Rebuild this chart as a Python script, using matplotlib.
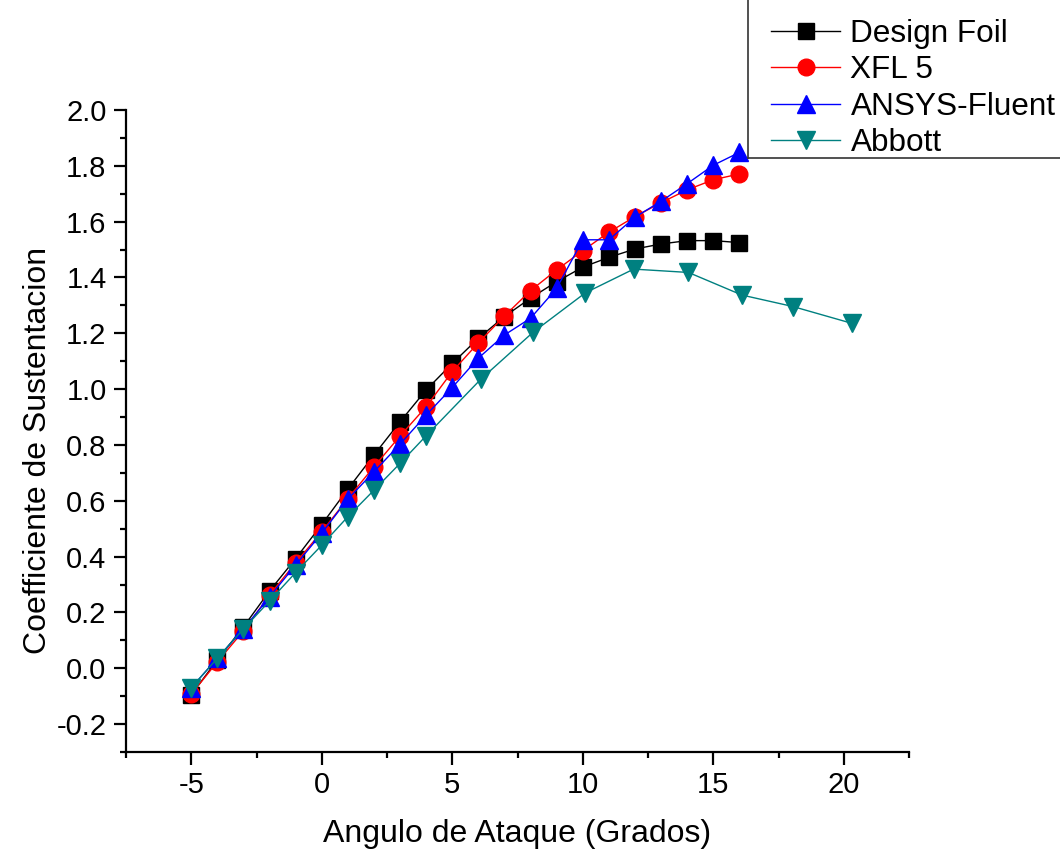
import matplotlib
matplotlib.use("Agg")
import matplotlib.pyplot as plt
from matplotlib.ticker import MultipleLocator, FormatStrFormatter
from matplotlib.lines import Line2D

plt.rcParams['font.family'] = ['Liberation Sans', 'DejaVu Sans']
plt.rcParams['axes.unicode_minus'] = False

alpha = [-5, -4, -3, -2, -1, 0, 1, 2, 3, 4, 5, 6, 7, 8, 9, 10, 11, 12, 13, 14, 15, 16]
design_foil = [-0.095, 0.03, 0.148, 0.277, 0.393, 0.515, 0.642, 0.764, 0.883, 0.997, 1.092,
               1.182, 1.26, 1.326, 1.385, 1.437, 1.472, 1.502, 1.52, 1.532, 1.532, 1.525]
xfl5 = [-0.093, 0.023, 0.134, 0.262, 0.378, 0.489, 0.608, 0.722, 0.832, 0.937, 1.063,
        1.166, 1.262, 1.353, 1.427, 1.496, 1.562, 1.618, 1.668, 1.714, 1.75, 1.771]
ansys = [-0.07, 0.036, 0.14, 0.256, 0.37, 0.484, 0.606, 0.704, 0.803, 0.907, 1.006,
         1.111, 1.194, 1.254, 1.361, 1.535, 1.535, 1.616, 1.673, 1.736, 1.802, 1.848]

alpha_abbott = [-5, -4, -3, -2, -1, 0, 1, 2, 3, 4, 6.1, 8.1, 10.1, 11.95, 14.05, 16.1, 18.05, 20.3]
abbott = [-0.07, 0.036, 0.141, 0.241, 0.343, 0.441, 0.543, 0.638, 0.734, 0.833,
          1.036, 1.204, 1.345, 1.43, 1.418, 1.337, 1.296, 1.236]

W, H = 1060, 852
fig = plt.figure(figsize=(W / 100, H / 100), dpi=100)
ax = fig.add_axes([126 / W, 1 - 752 / H, (909 - 126) / W, (752 - 110) / H])

ax.plot(alpha, design_foil, color='black', lw=1, marker='s', ms=11, label='Design Foil')
ax.plot(alpha, xfl5, color='red', lw=1, marker='o', ms=12, label='XFL 5')
ax.plot(alpha, ansys, color='blue', lw=1, marker='^', ms=13, label='ANSYS-Fluent')
ax.plot(alpha_abbott, abbott, color='#008080', lw=1, marker='v', ms=13, label='Abbott')

ax.set_xlim(-7.5, 22.5)
ax.set_ylim(-0.3, 2.0)
ax.xaxis.set_major_locator(MultipleLocator(5))
ax.xaxis.set_minor_locator(MultipleLocator(2.5))
ax.set_yticks([-0.2, 0.0, 0.2, 0.4, 0.6, 0.8, 1.0, 1.2, 1.4, 1.6, 1.8, 2.0])
ax.yaxis.set_minor_locator(MultipleLocator(0.1))
ax.yaxis.set_major_formatter(FormatStrFormatter('%.1f'))

for s in ['top', 'right']:
    ax.spines[s].set_visible(False)
for s in ['left', 'bottom']:
    ax.spines[s].set_linewidth(1.6)
ax.tick_params(which='major', direction='out', length=9, width=1.6, labelsize=21, pad=5)
ax.tick_params(which='minor', direction='out', length=4.5, width=1.6)

ax.set_xlabel('Angulo de Ataque (Grados)', fontsize=23, labelpad=14)
ax.set_ylabel('Coefficiente de Sustentacion', fontsize=23)
ax.yaxis.set_label_coords(-(126 - 53) / (909 - 126), (752 - 450) / (752 - 110))

leg = fig.legend(loc='lower left', bbox_to_anchor=(771 / W, 1 - 158 / H),
                 fontsize=22.7, frameon=False, borderaxespad=0, borderpad=0,
                 handlelength=2.2, handletextpad=0.32, labelspacing=0.2)

# legend frame edges (top and right fall outside the figure in the reference)
fig.add_artist(Line2D([748 / W, 748 / W], [1 - 158 / H, 1.0], transform=fig.transFigure,
                      color='#333333', lw=1.2))
fig.add_artist(Line2D([748 / W, 1.0], [1 - 158 / H, 1 - 158 / H], transform=fig.transFigure,
                      color='#333333', lw=1.2))

fig.savefig('out.png', dpi=100)
